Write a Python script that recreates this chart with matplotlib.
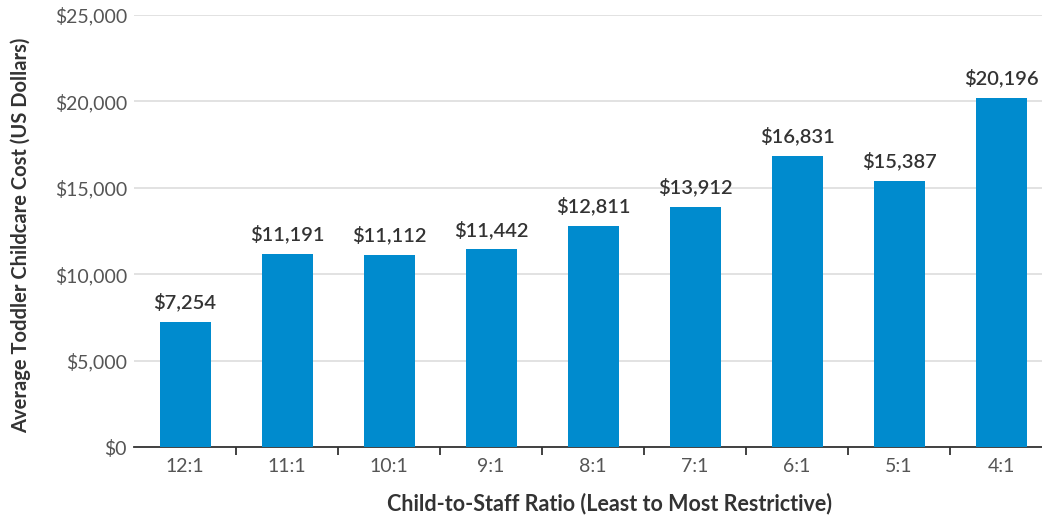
import matplotlib as mpl
mpl.use('Agg')
import matplotlib.pyplot as plt
import numpy as np

ratios = ['12:1', '11:1', '10:1', '9:1', '8:1', '7:1', '6:1', '5:1', '4:1']
costs = [7254, 11191, 11112, 11442, 12811, 13912, 16831, 15387, 20196]
yticks = [0, 5000, 10000, 15000, 20000, 25000]

plt.rcParams['font.family'] = ['Lato', 'DejaVu Sans']

fig = plt.figure(figsize=(10.42, 5.19), dpi=100)
# right edge runs a little past the figure, like the source
ax = fig.add_axes([0.1286, 0.1387, 0.881, 0.8324])

x = np.arange(len(ratios))
ax.bar(x, costs, width=0.5, color='#008BCE', zorder=3)
for xi, v in zip(x, costs):
    ax.text(xi, v + 600, '${:,}'.format(v), ha='center', va='bottom',
            fontsize=14.5, color='#333333', fontweight='semibold')

ax.set_xlim(-0.5, len(ratios) - 0.5)
ax.set_ylim(0, 25000)
ax.set_yticks(yticks)
ax.set_yticklabels(['${:,}'.format(t) for t in yticks])
ax.set_xticks(x)
ax.set_xticklabels(ratios)
ax.set_xticks(x[:-1] + 0.5, minor=True)
ax.tick_params(axis='x', which='major', length=0, pad=8, labelsize=14, labelcolor='#555555')
ax.tick_params(axis='x', which='minor', length=6, width=1.3, color='#333333')
ax.tick_params(axis='y', length=0, pad=5, labelsize=14, labelcolor='#555555')

ax.grid(axis='y', color='#DDDDDD', lw=1.2, zorder=0)
for s in ['top', 'right', 'left']:
    ax.spines[s].set_visible(False)
ax.spines['bottom'].set_color('#333333')
ax.spines['bottom'].set_linewidth(1.3)

ax.set_xlabel('Child-to-Staff Ratio (Least to Most Restrictive)', fontsize=15.5,
              fontweight='bold', color='#333333')
ax.set_ylabel('Average Toddler Childcare Cost (US Dollars)', fontsize=14.5,
              fontweight='bold', color='#333333')
ax.yaxis.set_label_coords(-0.112, 0.49)
ax.xaxis.set_label_coords(0.518, -0.105)

fig.savefig('out.png', dpi=100)
